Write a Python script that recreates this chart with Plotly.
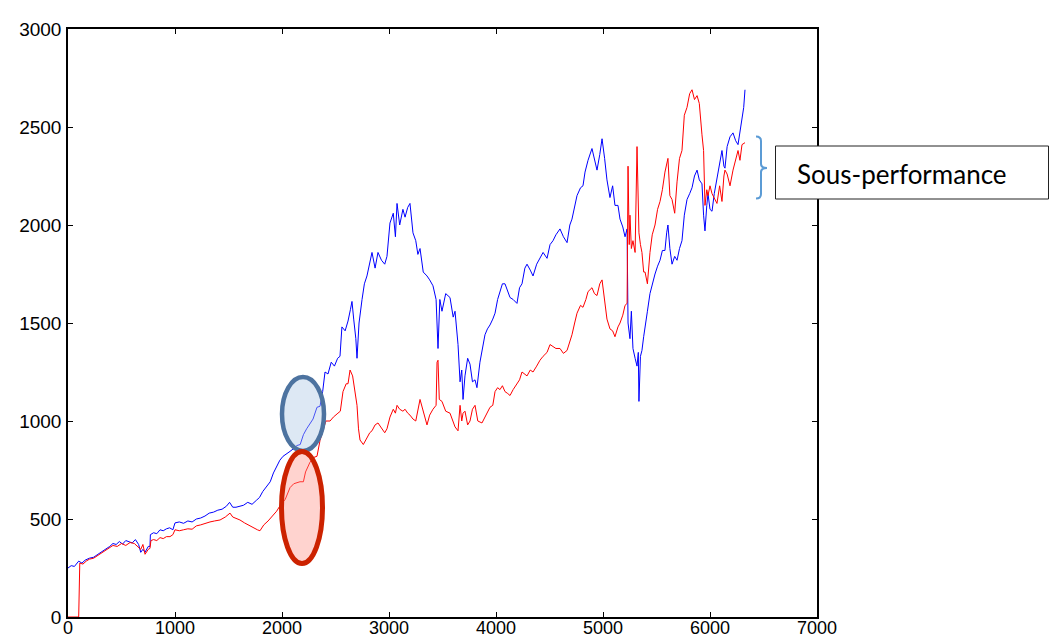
import plotly.graph_objects as go

# Index (trading days) and level of the two price series
blue_x = [0, 30, 60, 100, 130, 160, 200, 240, 280, 310, 350, 390, 420, 450, 480, 510, 540, 570, 600, 630,
          660, 680, 700, 720, 750, 766, 770, 800, 830, 860, 890, 920, 950, 980, 1000, 1040, 1080, 1120, 1160, 1200,
          1240, 1280, 1320, 1360, 1400, 1440, 1480, 1510, 1540, 1570, 1600, 1640, 1680, 1720, 1760, 1790, 1820, 1860, 1890, 1920,
          1950, 1980, 2010, 2040, 2075, 2110, 2140, 2170, 2200, 2230, 2262, 2290, 2327, 2355, 2380, 2402, 2430, 2460, 2490, 2520,
          2542, 2560, 2590, 2617, 2640, 2654, 2670, 2690, 2701, 2720, 2748, 2770, 2794, 2820, 2841, 2870, 2897, 2930, 2960, 2981,
          3009, 3040, 3060, 3075, 3100, 3130, 3150, 3175, 3196, 3224, 3250, 3270, 3290, 3320, 3355, 3380, 3411, 3440, 3458, 3475,
          3495, 3530, 3570, 3600, 3617, 3645, 3664, 3680, 3692, 3710, 3735, 3757, 3780, 3804, 3822, 3850, 3869, 3897, 3920, 3944,
          3970, 3991, 4015, 4037, 4060, 4084, 4110, 4131, 4160, 4196, 4220, 4243, 4270, 4290, 4320, 4346, 4380, 4411, 4440, 4477,
          4505, 4533, 4560, 4598, 4630, 4664, 4690, 4710, 4735, 4757, 4790, 4813, 4832, 4860, 4897, 4920, 4944, 4970, 4991, 5015,
          5037, 5065, 5090, 5112, 5140, 5159, 5185, 5206, 5225, 5234, 5252, 5265, 5280, 5300, 5318, 5330, 5336, 5350, 5364, 5380,
          5393, 5415, 5439, 5460, 5486, 5510, 5533, 5555, 5579, 5595, 5607, 5625, 5645, 5670, 5692, 5715, 5738, 5760, 5785, 5810,
          5832, 5855, 5879, 5900, 5925, 5940, 5953, 5970, 5981, 6000, 6019, 6040, 6065, 6090, 6112, 6130, 6140, 6160, 6187, 6215,
          6240, 6262, 6280, 6299, 6315, 6327]
blue_y = [250, 262, 258, 285, 275, 290, 300, 305, 320, 330, 345, 360, 375, 370, 385, 372, 390, 385, 378, 395,
          370, 330, 345, 330, 360, 360, 420, 430, 425, 445, 440, 450, 455, 445, 480, 485, 478, 490, 485, 500,
          505, 515, 530, 535, 545, 550, 565, 585, 560, 560, 565, 570, 585, 575, 595, 610, 640, 670, 690, 735,
          770, 800, 820, 830, 845, 860, 875, 880, 930, 960, 990, 1010, 1070, 1075, 1150, 1250, 1240, 1300, 1280, 1320,
          1330, 1480, 1460, 1510, 1570, 1610, 1520, 1420, 1320, 1500, 1620, 1700, 1740, 1800, 1860, 1780, 1860, 1820, 1800, 1840,
          2010, 2060, 1940, 2110, 2000, 2080, 2040, 2090, 2110, 1960, 1920, 1850, 1880, 1760, 1740, 1720, 1690, 1620, 1370, 1620,
          1560, 1650, 1630, 1530, 1560, 1390, 1200, 1260, 1110, 1230, 1320, 1290, 1200, 1210, 1170, 1300, 1350, 1440, 1470, 1490,
          1520, 1550, 1620, 1660, 1700, 1700, 1660, 1630, 1620, 1600, 1680, 1700, 1780, 1800, 1770, 1740, 1800, 1830, 1860, 1830,
          1900, 1920, 1950, 1980, 1940, 1910, 2000, 2030, 2100, 2150, 2190, 2200, 2270, 2330, 2390, 2330, 2280, 2360, 2440, 2340,
          2230, 2140, 2200, 2100, 2100, 2030, 1990, 1940, 1980, 1500, 1420, 1560, 1370, 1320, 1280, 1350, 1100, 1330, 1360, 1430,
          1490, 1560, 1650, 1700, 1750, 1790, 1820, 1870, 1870, 1960, 2000, 1880, 1800, 1840, 1820, 1880, 1920, 2050, 2130, 2160,
          2190, 2250, 2280, 2230, 2210, 2050, 1970, 2100, 2160, 2080, 2070, 2160, 2240, 2330, 2380, 2300, 2290, 2400, 2450, 2470,
          2430, 2410, 2480, 2540, 2600, 2690]

red_x = [0, 40, 90, 100, 110, 140, 170, 200, 240, 280, 310, 350, 390, 420, 460, 500, 540, 580, 620, 650,
         680, 700, 720, 750, 766, 775, 800, 830, 860, 890, 920, 953, 980, 1000, 1040, 1080, 1120, 1160, 1200, 1240,
         1280, 1327, 1370, 1421, 1470, 1514, 1540, 1570, 1607, 1650, 1700, 1740, 1770, 1794, 1830, 1870, 1910, 1950, 1990, 2030,
         2075, 2110, 2168, 2200, 2220, 2262, 2300, 2327, 2355, 2383, 2410, 2449, 2480, 2523, 2545, 2570, 2600, 2617, 2636, 2660,
         2680, 2701, 2715, 2729, 2760, 2794, 2820, 2841, 2870, 2897, 2930, 2960, 2981, 3009, 3040, 3060, 3075, 3100, 3130, 3150,
         3175, 3196, 3224, 3250, 3290, 3320, 3355, 3380, 3411, 3440, 3449, 3458, 3470, 3495, 3530, 3570, 3600, 3617, 3645, 3664,
         3680, 3692, 3710, 3735, 3757, 3780, 3804, 3830, 3869, 3897, 3920, 3944, 3970, 3991, 4015, 4037, 4060, 4084, 4110, 4131,
         4160, 4196, 4220, 4243, 4270, 4290, 4320, 4346, 4380, 4411, 4440, 4477, 4505, 4533, 4560, 4598, 4630, 4664, 4690, 4710,
         4735, 4757, 4790, 4813, 4840, 4860, 4897, 4920, 4944, 4970, 4991, 5015, 5037, 5065, 5090, 5112, 5140, 5159, 5185, 5206,
         5225, 5234, 5245, 5252, 5265, 5280, 5300, 5318, 5336, 5350, 5364, 5380, 5393, 5415, 5439, 5460, 5486, 5510, 5533, 5555,
         5579, 5607, 5625, 5645, 5670, 5692, 5715, 5738, 5760, 5785, 5810, 5832, 5855, 5879, 5900, 5925, 5940, 5953, 5970, 5981,
         6000, 6019, 6040, 6065, 6090, 6112, 6130, 6140, 6160, 6187, 6215, 6240, 6262, 6280, 6299, 6327]
red_y = [0, 0, 0, 0, 275, 270, 285, 295, 300, 315, 325, 340, 352, 365, 360, 375, 365, 380, 375, 360,
         345, 370, 320, 345, 350, 390, 395, 390, 405, 400, 410, 410, 420, 445, 440, 445, 450, 448, 465, 470,
         478, 485, 490, 495, 510, 530, 510, 505, 495, 480, 465, 450, 445, 440, 470, 490, 515, 540, 575, 600,
         660, 680, 690, 690, 740, 790, 815, 820, 900, 950, 1000, 1000, 1020, 1040, 1050, 1150, 1190, 1190, 1260, 1230,
         1160, 1080, 960, 903, 880, 910, 940, 950, 980, 990, 960, 940, 960, 1020, 1060, 1040, 1080, 1060, 1050, 1060,
         1040, 1030, 1010, 1000, 1110, 1050, 980, 1030, 1060, 1080, 1300, 1310, 1110, 1100, 1050, 1040, 990, 970, 950, 1080,
         1000, 1040, 1050, 980, 1000, 1060, 1080, 1000, 990, 1020, 1040, 1070, 1080, 1150, 1170, 1160, 1180, 1150, 1140, 1130,
         1160, 1190, 1210, 1250, 1240, 1230, 1260, 1250, 1280, 1310, 1330, 1350, 1390, 1380, 1370, 1370, 1345, 1360, 1400, 1440,
         1500, 1550, 1590, 1580, 1620, 1660, 1680, 1650, 1640, 1700, 1720, 1600, 1520, 1470, 1460, 1430, 1480, 1500, 1540, 1590,
         1600, 2300, 1900, 2050, 1880, 1920, 1860, 2400, 1960, 1900, 1860, 1760, 1760, 1700, 1860, 1950, 2000, 2080, 2120, 2180,
         2270, 2340, 2150, 2130, 2060, 2220, 2340, 2380, 2560, 2600, 2670, 2690, 2640, 2660, 2620, 2460, 2380, 2100, 2180, 2150,
         2200, 2160, 2140, 2110, 2200, 2120, 2250, 2280, 2260, 2200, 2280, 2340, 2380, 2330, 2410, 2420]

x_ticks = [0, 1000, 2000, 3000, 4000, 5000, 6000, 7000]
y_ticks = [0, 500, 1000, 1500, 2000, 2500, 3000]

callout_text = "Sous-performance"

# Plot-area frame in page pixels
W, H = 1050, 640
L, R, T, B = 68, 817, 29, 617


def px(x):
    return (x - L) / (R - L)


def py(y):
    return (B - y) / (B - T)


fig = go.Figure()
fig.add_trace(go.Scatter(x=blue_x, y=blue_y, mode="lines",
                         line=dict(color="#0000ff", width=1), showlegend=False))
fig.add_trace(go.Scatter(x=red_x, y=red_y, mode="lines",
                         line=dict(color="#ff0000", width=1), showlegend=False))

axis_common = dict(showgrid=False, zeroline=False, showline=True, linecolor="black",
                   linewidth=1.5, mirror="ticks", ticks="inside", ticklen=5,
                   tickcolor="black", tickwidth=1)

fig.update_xaxes(range=[0, 7000], tickvals=x_ticks, ticktext=[str(v) for v in x_ticks],
                 ticklabelstandoff=-6,
                 tickfont=dict(family="Liberation Sans", size=18, color="black"),
                 **axis_common)
fig.update_yaxes(range=[0, 3000], tickvals=y_ticks, ticktext=[str(v) for v in y_ticks],
                 ticklabelstandoff=1,
                 tickfont=dict(family="Liberation Sans", size=19, color="black"),
                 **axis_common)

shapes = [
    # highlighted zones around the 2000-2400 crossover
    dict(type="circle", xref="paper", yref="paper",
         x0=px(282), x1=px(324), y0=py(451), y1=py(377),
         line=dict(color="#4d73a0", width=4.5),
         fillcolor="rgba(175,200,228,0.42)", layer="above"),
    dict(type="circle", xref="paper", yref="paper",
         x0=px(281.5), x1=px(322.5), y0=py(563.5), y1=py(451.5),
         line=dict(color="#cc2200", width=5),
         fillcolor="rgba(255,140,128,0.38)", layer="above"),
    # curly bracket spanning the gap between the two series
    dict(type="path", xref="paper", yref="paper",
         path=(f"M {px(756)},{py(136.5)} Q {px(761)},{py(136.5)} {px(761)},{py(141)} "
               f"L {px(761)},{py(164)} Q {px(761)},{py(168)} {px(767)},{py(168)} "
               f"Q {px(761)},{py(168)} {px(761)},{py(172)} "
               f"L {px(761)},{py(194)} Q {px(761)},{py(198.5)} {px(756)},{py(198.5)}"),
         line=dict(color="#5b9bd5", width=2)),
    # callout box
    dict(type="rect", xref="paper", yref="paper",
         x0=px(775.5), x1=px(1048.5), y0=py(199), y1=py(146),
         line=dict(color="#222222", width=1), fillcolor="white", layer="above"),
]

fig.update_layout(
    width=W, height=H,
    margin=dict(l=L, r=W - R, t=T, b=H - B, autoexpand=False),
    paper_bgcolor="white", plot_bgcolor="white",
    shapes=shapes,
    annotations=[dict(xref="paper", yref="paper", x=px(795), y=py(174),
                      xanchor="left", yanchor="middle", showarrow=False,
                      text=callout_text,
                      font=dict(family="Lato, Open Sans, sans-serif", size=26, color="black"))],
)

fig.write_html("out.html", config={"displayModeBar": False})
